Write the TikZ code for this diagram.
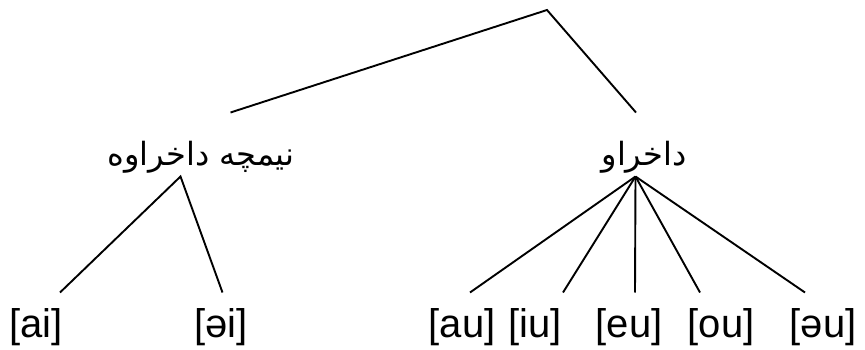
\documentclass[tikz,border=0pt]{standalone}
\usepackage{fontspec}
\setmainfont{Liberation Sans}
\newfontfamily\arabicfont[Script=Arabic]{DejaVu Sans}
\TeXXeTstate=1
\begin{document}
\begin{tikzpicture}[x=1pt,y=-1pt,
  edge/.style={line width=1.9pt},
  leaf/.style={anchor=base,inner sep=0pt,font=\fontsize{40}{44}\selectfont},
  cat/.style={anchor=base,inner sep=0pt,font=\arabicfont\fontsize{32}{38}\selectfont}]
\useasboundingbox (0,0) rectangle (865,350);
\coordinate (top) at (547,10);
\coordinate (lin) at (230.5,112.5);
\coordinate (rin) at (636,112.5);
\coordinate (lout) at (180.5,176.5);
\coordinate (rout) at (635.5,176.5);
\coordinate (e1) at (60,292.5);
\coordinate (e2) at (222.5,292.5);
\coordinate (e3) at (470,292.5);
\coordinate (e4) at (563,292.5);
\coordinate (e5) at (635,292.5);
\coordinate (e6) at (700,292.5);
\coordinate (e7) at (805,292.5);
\node[cat] (half) at (201,166) {\beginR نیمچه داخراوه\endR};
\node[cat] (closed) at (644,166) {\beginR داخراو\endR};
\node[leaf] (ai) at (36,337) {[ai]};
\node[leaf] (schwai) at (221,337) {[əi]};
\node[leaf] (au) at (462,337) {[au]};
\node[leaf] (iu) at (535,337) {[iu]};
\node[leaf] (eu) at (629,337) {[eu]};
\node[leaf] (ou) at (721,337) {[ou]};
\node[leaf] (schwau) at (823,337) {[əu]};
\draw[edge] (lin) -- (top) -- (rin);
\draw[edge] (e1) -- (lout) -- (e2);
\foreach \e in {e3,e4,e5,e6,e7} \draw[edge] (rout) -- (\e);
\end{tikzpicture}
\end{document}
